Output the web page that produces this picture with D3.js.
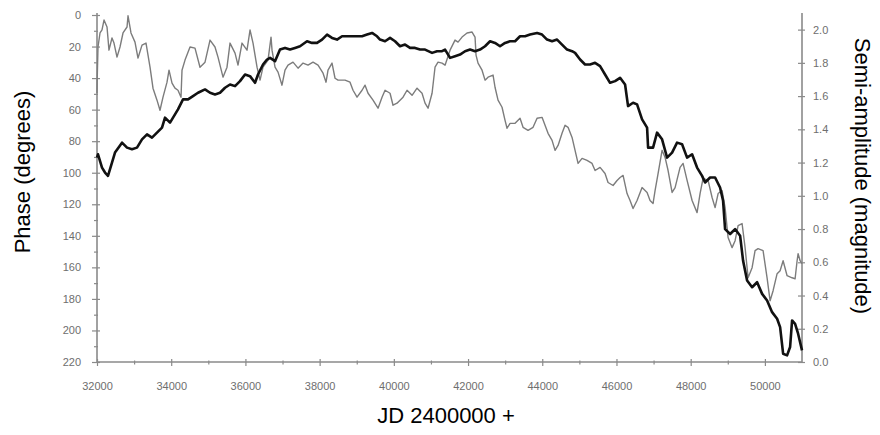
<!DOCTYPE html>
<html>
<head>
<meta charset="utf-8">
<script src="https://cdn.jsdelivr.net/npm/d3@7"></script>
<style>
  body { margin: 0; background: #fff; }
  svg { font-family: Arial, "Liberation Sans", sans-serif; }
</style>
</head>
<body>
<div id="chart"></div>
<script>
const FRAME_WIDTH = 880;
const FRAME_HEIGHT = 435;
const PLOT = {left: 97, right: 802, top: 15, bottom: 362};

// x ticks (JD - 2400000)
const X_TICKS = [32000, 34000, 36000, 38000, 40000, 42000, 44000, 46000, 48000, 50000];
const X_MINOR = [33000, 35000, 37000, 39000, 41000, 43000, 45000, 47000, 49000];
const PHASE_TICKS = [0, 20, 40, 60, 80, 100, 120, 140, 160, 180, 200, 220];
const PHASE_MINOR = [10, 30, 50, 70, 90, 110, 130, 150, 170, 190, 210];
const AMP_TICKS = [0, 0.2, 0.4, 0.6, 0.8, 1.0, 1.2, 1.4, 1.6, 1.8, 2.0];

// semi-amplitude (thick line, right axis)
const ampJD = [32000,32027,32135,32216,32296,32404,32485,32674,32809,32943,
  33078,33213,33348,33482,33617,33752,33833,33968,34102,34183,
  34318,34453,34587,34722,34911,35046,35180,35315,35450,35585,
  35720,35854,35989,36124,36259,36340,36474,36582,36663,36798,
  36932,37067,37202,37337,37472,37660,37795,37930,38065,38200,
  38334,38469,38604,38873,39143,39278,39413,39547,39628,39763,
  39898,40032,40167,40302,40437,40571,40706,40841,41030,41164,
  41299,41380,41515,41649,41784,41919,42054,42188,42323,42458,
  42593,42727,42862,42997,43132,43267,43401,43536,43671,43860,
  43994,44129,44264,44399,44533,44668,44803,44884,45019,45153,
  45288,45423,45558,45692,45827,45962,46097,46232,46312,46447,
  46555,46690,46825,46852,46986,47094,47229,47364,47499,47633,
  47768,47903,48038,48172,48307,48388,48523,48658,48792,48873,
  48927,49062,49197,49332,49412,49520,49655,49790,49925,50059,
  50194,50329,50410,50491,50598,50679,50733,50814,50895,51000];
const ampVal = [1.23,1.25,1.17,1.14,1.12,1.20,1.26,1.32,1.29,1.28,
  1.29,1.34,1.37,1.35,1.38,1.41,1.47,1.44,1.49,1.52,
  1.58,1.58,1.60,1.62,1.64,1.62,1.61,1.62,1.65,1.67,
  1.66,1.69,1.73,1.72,1.68,1.73,1.79,1.82,1.83,1.81,
  1.88,1.89,1.88,1.89,1.90,1.93,1.92,1.92,1.94,1.97,
  1.95,1.94,1.96,1.96,1.96,1.97,1.98,1.96,1.94,1.93,
  1.95,1.93,1.90,1.91,1.89,1.89,1.88,1.88,1.86,1.87,
  1.87,1.88,1.83,1.84,1.85,1.87,1.88,1.87,1.88,1.90,
  1.93,1.92,1.90,1.92,1.93,1.93,1.96,1.96,1.97,1.98,
  1.97,1.94,1.93,1.94,1.91,1.88,1.87,1.86,1.82,1.79,
  1.79,1.80,1.78,1.73,1.68,1.69,1.71,1.67,1.54,1.56,
  1.55,1.46,1.41,1.29,1.29,1.38,1.34,1.23,1.26,1.32,
  1.31,1.23,1.25,1.17,1.12,1.08,1.11,1.11,1.05,0.97,
  0.80,0.77,0.80,0.76,0.61,0.49,0.45,0.48,0.41,0.37,
  0.30,0.26,0.21,0.05,0.04,0.09,0.25,0.23,0.17,0.07];

// phase (thin line, left axis)
const phaseJD = [32000,32005,32027,32081,32135,32189,32270,32323,32404,32458,
  32539,32620,32701,32809,32836,32916,33024,33105,33213,33321,
  33429,33509,33617,33698,33779,33887,33941,34022,34102,34183,
  34264,34291,34372,34507,34641,34776,34911,35046,35180,35261,
  35396,35504,35585,35720,35800,35908,36043,36124,36205,36313,
  36394,36474,36609,36690,36717,36798,36879,36986,37067,37148,
  37283,37418,37553,37687,37822,37957,38092,38173,38226,38334,
  38415,38496,38685,38819,38900,39008,39143,39224,39305,39439,
  39574,39682,39763,39898,39978,40086,40167,40248,40356,40491,
  40625,40760,40841,40922,41030,41110,41191,41299,41380,41515,
  41649,41730,41838,41973,42108,42188,42215,42269,42377,42458,
  42539,42674,42727,42808,42916,42997,43051,43132,43267,43401,
  43482,43617,43752,43860,43994,44075,44156,44264,44345,44426,
  44533,44614,44695,44803,44884,44965,45073,45207,45342,45423,
  45558,45692,45773,45908,46016,46097,46178,46285,46366,46447,
  46555,46690,46825,46905,46986,47040,47121,47229,47310,47391,
  47499,47580,47714,47795,47903,48038,48172,48253,48334,48469,
  48577,48658,48739,48846,48927,49008,49116,49197,49278,49385,
  49466,49547,49655,49735,49816,49951,50059,50140,50221,50329,
  50410,50491,50598,50733,50814,50868,50895,50949,51000];
const phaseVal = [49.6,41.3,20.3,11.4,9.5,3.2,7.6,22.3,14.6,17.8,
  26.7,20.3,11.4,7.6,0.5,11.4,17.2,27.3,19.1,17.8,
  33.1,46.4,54.0,60.4,52.1,42.6,35.0,43.2,46.4,47.7,
  52.1,35.0,28.6,20.3,21.0,33.1,29.9,15.9,20.3,26.7,
  39.4,33.1,17.8,24.2,31.8,17.8,22.3,9.5,17.8,33.1,
  41.3,33.1,28.6,14.0,22.3,33.1,36.2,44.5,35.0,31.8,
  29.9,33.7,30.5,31.8,29.9,31.8,36.9,42.6,35.0,30.5,
  40.1,41.3,41.3,42.6,47.7,52.1,47.7,44.5,49.6,54.0,
  59.1,52.1,47.7,49.6,57.2,55.9,54.0,52.1,47.7,50.9,
  46.4,49.6,55.9,59.1,49.6,33.1,29.9,30.5,31.8,22.3,
  15.9,17.2,14.0,11.4,10.8,14.0,25.4,30.5,35.0,41.3,
  39.4,38.1,45.8,54.0,58.5,66.8,71.8,68.7,68.7,65.5,
  71.2,73.1,71.2,65.5,64.9,69.9,75.0,79.5,85.8,82.7,
  75.0,69.9,71.2,77.6,85.8,94.1,90.9,92.2,94.1,98.6,
  96.6,100.5,106.2,108.1,104.9,103.0,101.7,113.2,117.6,122.7,
  117.6,109.4,112.5,117.6,119.5,111.3,100.5,85.8,90.3,98.6,
  112.5,109.4,96.6,94.1,104.9,117.6,125.3,113.2,103.6,104.9,
  115.7,122.1,113.2,111.3,122.1,141.1,147.5,143.1,133.5,132.2,
  147.5,166.6,160.2,149.4,148.1,149.4,166.6,181.2,174.8,164.0,
  162.1,155.8,165.3,166.6,167.2,155.8,151.3,155.8,157.7];

const AXIS_COLOR = "#8a8a8a";
const TICK_TEXT = "#6e6e6e";

const SVG = d3.select("#chart")
  .append("svg")
    .attr("width", FRAME_WIDTH)
    .attr("height", FRAME_HEIGHT);

// scales
const x = d3.scaleLinear()
  .domain([32000, 51000])
  .range([PLOT.left, PLOT.right]);
const yPhase = d3.scaleLinear()
  .domain([0, 220])
  .range([PLOT.top, PLOT.bottom]);
const yAmp = d3.scaleLinear()
  .domain([0, 2.1])
  .range([PLOT.bottom, 13]);

// style an axis group: grey line, crossing ticks
function styleAxis(g, inner, outer, vertical) {
  g.select(".domain").attr("stroke", AXIS_COLOR).attr("stroke-width", 1.6);
  g.selectAll(".tick line").attr("stroke", AXIS_COLOR).attr("stroke-width", 1.2);
  if (vertical) {
    g.selectAll(".tick line").attr("x1", inner).attr("x2", outer);
  } else {
    g.selectAll(".tick line").attr("y1", inner).attr("y2", outer);
  }
  g.selectAll(".tick text").attr("fill", TICK_TEXT).style("font-size", "11px");
}

// minor ticks first so major ones sit on top
SVG.append("g")
  .attr("transform", "translate(0," + PLOT.bottom + ")")
  .call(d3.axisBottom(x).tickValues(X_MINOR).tickSizeOuter(0).tickFormat(""))
  .call(g => { styleAxis(g, -1.5, 2.5, false); g.select(".domain").remove(); });
SVG.append("g")
  .attr("transform", "translate(" + PLOT.left + ",0)")
  .call(d3.axisLeft(yPhase).tickValues(PHASE_MINOR).tickSizeOuter(0).tickFormat(""))
  .call(g => { styleAxis(g, 1, -3, true); g.select(".domain").remove(); });

// bottom axis
SVG.append("g")
  .attr("transform", "translate(0," + PLOT.bottom + ")")
  .call(d3.axisBottom(x).tickValues(X_TICKS).tickSizeOuter(0).tickFormat(d3.format("d")).tickPadding(14))
  .call(g => styleAxis(g, -3, 4, false))
  .call(g => g.select(".domain").attr("d", "M" + PLOT.left + ",0H" + PLOT.right));

// left axis (phase)
SVG.append("g")
  .attr("transform", "translate(" + PLOT.left + ",0)")
  .call(d3.axisLeft(yPhase).tickValues(PHASE_TICKS).tickSizeOuter(0).tickPadding(10))
  .call(g => styleAxis(g, 3, -5, true))
  .call(g => g.select(".domain").attr("d", "M0,13V" + PLOT.bottom));

// right axis (semi-amplitude)
SVG.append("g")
  .attr("transform", "translate(" + PLOT.right + ",0)")
  .call(d3.axisRight(yAmp).tickValues(AMP_TICKS).tickSizeOuter(0).tickFormat(d3.format(".1f")).tickPadding(5))
  .call(g => styleAxis(g, -4, 3, true))
  .call(g => g.select(".domain").attr("d", "M0,13V" + PLOT.bottom));

// lines
const phaseLine = d3.line()
  .x((d) => { return x(d[0]); })
  .y((d) => { return yPhase(d[1]); });
const ampLine = d3.line()
  .x((d) => { return x(d[0]); })
  .y((d) => { return yAmp(d[1]); });

SVG.append("path")
  .datum(d3.zip(phaseJD, phaseVal))
  .attr("fill", "none")
  .attr("stroke", "#7c7c7c")
  .attr("stroke-width", 1.4)
  .attr("stroke-linejoin", "round")
  .attr("d", phaseLine);

SVG.append("path")
  .datum(d3.zip(ampJD, ampVal))
  .attr("fill", "none")
  .attr("stroke", "#111")
  .attr("stroke-width", 2.6)
  .attr("stroke-linejoin", "round")
  .attr("d", ampLine);

// axis titles
SVG.append("text")
  .attr("transform", "translate(30,172) rotate(-90)")
  .attr("text-anchor", "middle")
  .style("font-size", "22px")
  .attr("fill", "#000")
  .text("Phase  (degrees)");

SVG.append("text")
  .attr("transform", "translate(855,176) rotate(90)")
  .attr("text-anchor", "middle")
  .style("font-size", "22px")
  .attr("fill", "#000")
  .text("Semi-amplitude  (magnitude)");

SVG.append("text")
  .attr("x", 446)
  .attr("y", 423)
  .attr("text-anchor", "middle")
  .style("font-size", "22px")
  .attr("fill", "#000")
  .text("JD 2400000 +");
</script>
</body>
</html>
